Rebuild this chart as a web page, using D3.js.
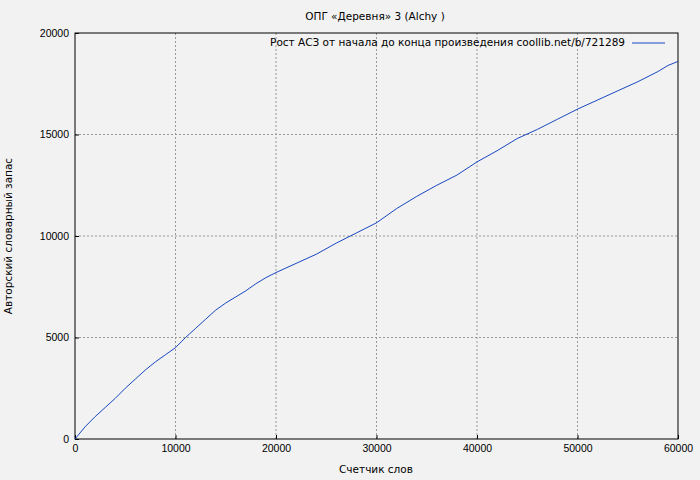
<!DOCTYPE html>
<html><head><meta charset="utf-8">
<script src="https://cdn.jsdelivr.net/npm/d3@7"></script>
<style>body{margin:0;background:#f2f2f2}svg{font-family:"DejaVu Sans",sans-serif;font-size:10.5px}</style>
</head><body><svg width="700" height="480"></svg>
<script>
var words = [0,1000,2000,3000,4000,5000,6000,7000,8000,9000,10000,11000,12000,13000,14000,15000,16000,17000,18000,19000,20000,22000,24000,26000,28000,30000,32000,34000,36000,38000,40000,42000,44000,46000,48000,50000,52000,54000,56000,58000,59000,60000];
var vocab = [0,600,1100,1550,2000,2500,2950,3400,3800,4150,4500,5000,5450,5900,6350,6700,7000,7300,7650,7950,8200,8650,9100,9650,10150,10650,11350,11950,12500,13000,13650,14200,14800,15250,15750,16250,16700,17150,17600,18100,18400,18600];
var xTicks = [0,10000,20000,30000,40000,50000,60000];
var yTicks = [0,5000,10000,15000,20000];

var svg = d3.select("svg");
var m = {l:75, r:22, t:33, b:41};
var W = 700, H = 480;
var x = d3.scaleLinear().domain([0,60000]).range([m.l, W-m.r]);
var y = d3.scaleLinear().domain([0,20000]).range([H-m.b, m.t]);

// grid
svg.selectAll(".gx").data(xTicks.slice(1,-1)).enter().append("line")
  .attr("x1",x).attr("x2",x).attr("y1",m.t).attr("y2",H-m.b)
  .attr("stroke","#999").attr("stroke-dasharray","2,2");
svg.selectAll(".gy").data(yTicks.slice(1,-1)).enter().append("line")
  .attr("y1",y).attr("y2",y).attr("x1",m.l).attr("x2",W-m.r)
  .attr("stroke","#999").attr("stroke-dasharray","2,2");

svg.append("g").attr("transform","translate(0,"+(H-m.b)+")")
  .call(d3.axisBottom(x).tickValues(xTicks).tickSize(-4).tickPadding(6).tickFormat(d3.format("d")))
  .call(g=>g.select(".domain").remove()).selectAll("text").attr("font-size",10.5);
svg.append("g").attr("transform","translate("+m.l+",0)")
  .call(d3.axisLeft(y).tickValues(yTicks).tickSize(-4).tickPadding(6).tickFormat(d3.format("d")))
  .call(g=>g.select(".domain").remove()).selectAll("text").attr("font-size",10.5);
svg.selectAll(".tick line").attr("stroke","#000");

svg.append("rect").attr("x",m.l).attr("y",m.t).attr("width",W-m.r-m.l).attr("height",H-m.b-m.t)
  .attr("fill","none").attr("stroke","#000");

svg.append("path").datum(words.map((w,i)=>[w,vocab[i]]))
  .attr("d",d3.line().x(d=>x(d[0])).y(d=>y(d[1])))
  .attr("fill","none").attr("stroke","#0033bb").attr("stroke-width",0.9);

svg.append("text").attr("x",375).attr("y",20).attr("text-anchor","middle").text("ОПГ «Деревня» 3 (Alchy )");
svg.append("text").attr("x",376).attr("y",473).attr("text-anchor","middle").text("Счетчик слов");
svg.append("text").attr("transform","translate(12,236) rotate(-90)").attr("text-anchor","middle").text("Авторский словарный запас");
svg.append("text").attr("x",625).attr("y",46).attr("text-anchor","end").text("Рост АСЗ от начала до конца произведения coollib.net/b/721289");
svg.append("line").attr("x1",632).attr("x2",665).attr("y1",43).attr("y2",43).attr("stroke","#0033bb").attr("stroke-width",0.9);
</script></body></html>
